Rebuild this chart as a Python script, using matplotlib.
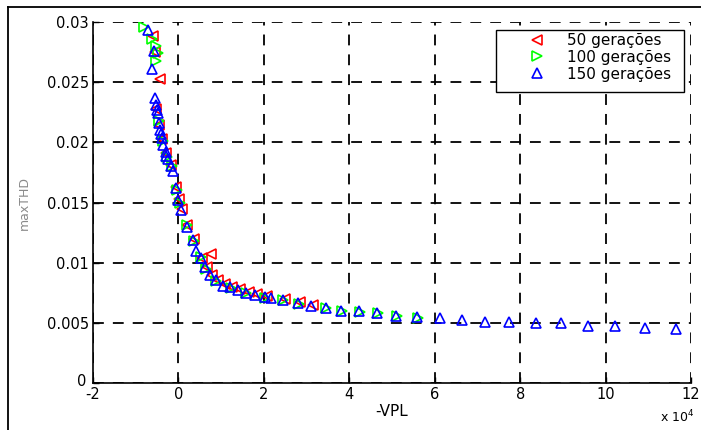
import matplotlib
matplotlib.use("Agg")
import matplotlib.pyplot as plt
import matplotlib.transforms as mtransforms
from matplotlib.lines import Line2D
from matplotlib.patches import Rectangle

plt.rcParams['font.family'] = ['DejaVu Sans']

# -VPL in units of 1e4, maxTHD
x50 = [-0.60, -0.55, -0.44, -0.52, -0.45, -0.38, -0.30, -0.18, -0.05, 0.02, 0.08, 0.20, 0.36, 0.77,
       0.56, 0.66, 0.78, 0.92, 1.08, 1.25, 1.45, 1.65, 1.85, 2.08, 2.50, 2.85, 3.15]
y50 = [0.0288, 0.0275, 0.0253, 0.0228, 0.0214, 0.0203, 0.0191, 0.0181, 0.0163, 0.0153, 0.0145, 0.0131,
       0.0120, 0.0107, 0.0104, 0.0096, 0.0090, 0.0086, 0.0082, 0.0080, 0.0078, 0.0076, 0.0074, 0.0072,
       0.0070, 0.0067, 0.0065]

x100 = [-0.80, -0.62, -0.52, -0.48, -0.52, -0.45, -0.36, -0.27, -0.16, -0.04, 0.03, 0.20, 0.37, 0.52,
        0.65, 0.88, 1.22, 1.58, 2.03, 2.45, 2.82, 3.45, 3.82, 4.25, 4.68, 5.12, 5.60]
y100 = [0.0296, 0.0286, 0.0280, 0.0274, 0.0268, 0.0218, 0.0201, 0.0188, 0.0180, 0.0160, 0.0150, 0.0131,
        0.0118, 0.0105, 0.0095, 0.0085, 0.0079, 0.0075, 0.0071, 0.0069, 0.0066, 0.0062, 0.0060, 0.0059,
        0.0058, 0.0056, 0.0054]

x150 = [-0.72, -0.58, -0.61, -0.56, -0.53, -0.50, -0.47, -0.45, -0.42, -0.40, -0.38, -0.35, -0.30,
        -0.28, -0.25, -0.18, -0.12, -0.05, 0.00, 0.05, 0.19, 0.35, 0.42, 0.54, 0.63, 0.75, 0.89, 1.05,
        1.21, 1.40, 1.59, 1.80, 2.03, 2.17, 2.45, 2.80, 3.10, 3.45, 3.81, 4.23, 4.65, 5.10, 5.58, 6.12,
        6.64, 7.17, 7.73, 8.36, 8.95, 9.60, 10.23, 10.93, 11.64]
y150 = [0.0293, 0.0276, 0.0261, 0.0237, 0.0231, 0.0227, 0.0224, 0.0216, 0.0210, 0.0207, 0.0204, 0.0198,
        0.0192, 0.0189, 0.0186, 0.0180, 0.0176, 0.0162, 0.0152, 0.0144, 0.0130, 0.0119, 0.0110, 0.0104,
        0.0096, 0.0090, 0.0086, 0.0081, 0.0080, 0.0077, 0.0075, 0.0073, 0.00715, 0.0071, 0.0069,
        0.00665, 0.0064, 0.0062, 0.0060, 0.0060, 0.0058, 0.0056, 0.0055, 0.0054, 0.0052, 0.0051,
        0.0051, 0.0050, 0.0050, 0.0047, 0.0047, 0.0046, 0.0045]

labels = ['50 gerações', '100 gerações', '150 gerações']
xticks = [-2, 0, 2, 4, 6, 8, 10, 12]
yticks = [0, 0.005, 0.01, 0.015, 0.02, 0.025, 0.03]
ytick_labels = ['0', '0.005', '0.01', '0.015', '0.02', '0.025', '0.03']

W, H = 701, 430
fig = plt.figure(figsize=(W / 100, H / 100), dpi=100)
ax = fig.add_axes([93 / W, 1 - 383 / H, (691 - 93) / W, (383 - 22) / H])

ms = 7.5
mew = 1.2
ax.plot(x50, y50, linestyle='none', marker='<', ms=ms, mew=mew, mfc='none', mec=(1, 0, 0), label=labels[0])
ax.plot(x100, y100, linestyle='none', marker='>', ms=ms, mew=mew, mfc='none', mec=(0, 1, 0), label=labels[1])
ax.plot(x150, y150, linestyle='none', marker='^', ms=ms, mew=mew, mfc='none', mec=(0, 0, 1), label=labels[2])

ax.set_xlim(-2, 12)
ax.set_ylim(0, 0.03)
ax.set_xticks(xticks)
ax.set_xticklabels([str(t) for t in xticks])
ax.set_yticks(yticks)
ax.set_yticklabels(ytick_labels)
ax.tick_params(direction='in', length=4, width=1, labelsize=10.5, colors='black', pad=3)
ax.grid(True, color='black', linestyle=(0, (6, 5)), linewidth=1.3)
ax.set_axisbelow(True)
for s in ['top', 'right']:
    ax.spines[s].set_visible(False)
for s in ['left', 'bottom']:
    ax.spines[s].set_linewidth(1.2)

# nudge the y "0" label up/left a little (as in the reference)
zero_lbl = ax.get_yticklabels()[0]
zero_lbl.set_transform(zero_lbl.get_transform() + mtransforms.ScaledTranslation(-2 / 100, 3 / 100, fig.dpi_scale_trans))

fig.text(392 / W, 1 - 411 / H, '-VPL', fontsize=11, ha='center', va='center')
fig.text(24 / W, 1 - 203 / H, 'maxTHD', fontsize=9, color='#8a8a8a', rotation=90, ha='center', va='center')
fig.text(677 / W, 1 - 417 / H, r'x 10$^4$', fontsize=9, ha='center', va='center')

# legend box
box = Rectangle((496 / W, 1 - 92 / H), (684 - 496) / W, (92 - 30) / H, transform=fig.transFigure,
                facecolor='white', edgecolor='black', lw=1.0, zorder=4, clip_on=False)
ax.add_patch(box)
leg = ax.legend(loc='upper left', bbox_to_anchor=(521.5 / W, 1 - 33 / H), bbox_transform=fig.transFigure,
                fontsize=11, frameon=False, borderpad=0, handlelength=2.0, handletextpad=0.96,
                labelspacing=0.12, borderaxespad=0, markerscale=0.9)
leg.set_zorder(5)

# outer image frame (left and top)
fig.add_artist(Line2D([8 / W, 8 / W], [0, 1 - 7 / H], color='black', lw=1.3, transform=fig.transFigure))
fig.add_artist(Line2D([8 / W, 1], [1 - 7 / H, 1 - 7 / H], color='black', lw=1.3, transform=fig.transFigure))

fig.savefig('out.png', dpi=100)
